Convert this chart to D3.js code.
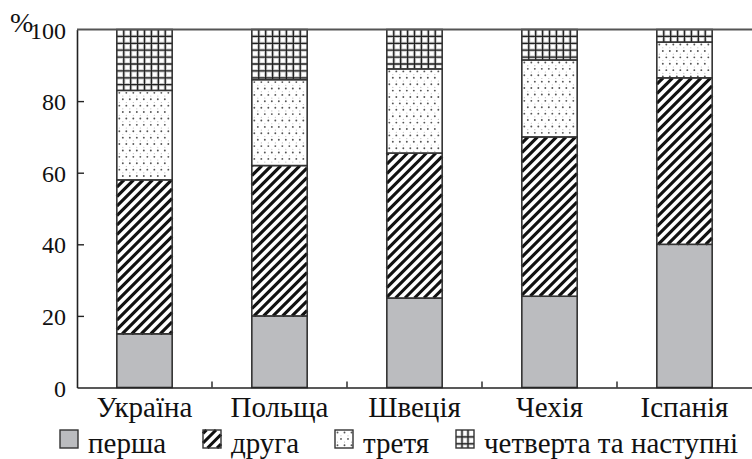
<!DOCTYPE html>
<html>
<head>
<meta charset="utf-8">
<script src="https://cdn.jsdelivr.net/npm/d3@7"></script>
</head>
<body style="margin:0">
<script>
    /*Data*/
    const countries = ["Україна", "Польща", "Швеція", "Чехія", "Іспанія"];
    const seriesNames = ["перша", "друга", "третя", "четверта та наступні"];
    const persha   = [15, 20, 25, 25.5, 40];
    const druha    = [43, 42, 40.5, 44.5, 46.5];
    const tretia   = [25, 24, 23.5, 21.5, 10];
    const chetverta = [17, 14, 11, 8.5, 3.5];
    const yTicks = [0, 20, 40, 60, 80, 100];

    const FONT = "serif";
    const W = 752, H = 459;
    let margin = {top: 29.5, left: 77, right: 0, bottom: 71.5};
    const width = W - margin.left - margin.right,
    height = H - margin.top - margin.bottom;

    const svg = d3.select("body").append("svg")
    .attr("width", W)
    .attr("height", H)
    .attr("font-family", FONT);

    /*Textures drawn straight into a box*/
    function texture(g, kind, x0, y0, x1, y1) {
        if (kind === 0) {
            g.append("rect").attr("x", x0).attr("y", y0).attr("width", x1 - x0).attr("height", y1 - y0)
            .attr("fill", "#bbbcbf");
            return;
        }
        g.append("rect").attr("x", x0).attr("y", y0).attr("width", x1 - x0).attr("height", y1 - y0)
        .attr("fill", "#fff");
        if (kind === 1) {
            const step = 9.5;
            const segs = [];
            for (let c = Math.ceil((x0 + y0) / step) * step; c < x1 + y1; c += step) {
                const ax = Math.max(x0, c - y1), bx = Math.min(x1, c - y0);
                if (bx > ax) segs.push([ax, c - ax, bx, c - bx]);
            }
            g.selectAll(null).data(segs).enter().append("line")
            .attr("x1", d => d[0]).attr("y1", d => d[1])
            .attr("x2", d => d[2]).attr("y2", d => d[3])
            .attr("stroke", "#111").attr("stroke-width", 3.1);
        } else if (kind === 2) {
            const pts = [];
            let r = 0;
            for (let y = y0 + 2.5; y < y1 - 1; y += 6.4, r++) {
                for (let x = x0 + 2.5 + (r % 2) * 3.5; x < x1 - 1; x += 7) pts.push([x, y, 1]);
                for (let x = x0 + 6 - (r % 2) * 3.5; x < x1 - 1; x += 7) if (y + 3.2 < y1 - 1) pts.push([x, y + 3.2, 0]);
            }
            g.selectAll(null).data(pts).enter().append("circle")
            .attr("cx", d => d[0]).attr("cy", d => d[1])
            .attr("r", d => d[2] ? 0.95 : 0.55)
            .attr("fill", d => d[2] ? "#555" : "#b5b5b5");
        } else {
            const vs = [], hs = [];
            const nx = Math.max(2, Math.round((x1 - x0) / 6.9));
            for (let k = 1; k < nx; k++) vs.push(x0 + k * (x1 - x0) / nx);
            for (let y = y0 + 6.9; y < y1 - 1.5; y += 6.9) hs.push(y);
            [["#c8c8c8", 3.2], ["#222", 1.3]].forEach(([col, sw]) => {
                g.selectAll(null).data(vs).enter().append("line")
                .attr("x1", d => d).attr("x2", d => d).attr("y1", y0).attr("y2", y1)
                .attr("stroke", col).attr("stroke-width", sw);
                g.selectAll(null).data(hs).enter().append("line")
                .attr("x1", x0).attr("x2", x1).attr("y1", d => d).attr("y2", d => d)
                .attr("stroke", col).attr("stroke-width", sw);
            });
        }
    }

    /*Scales*/
    const xBand = d3.scaleBand().domain(countries).range([margin.left, W]).padding(0);
    const yScale = d3.scaleLinear().domain([0, 100]).range([margin.top + height, margin.top]);
    const barW = xBand.bandwidth() * 0.41;

    /*Stack*/
    const table = countries.map((c, i) => ({
        country: c,
        "перша": persha[i],
        "друга": druha[i],
        "третя": tretia[i],
        "четверта та наступні": chetverta[i]
    }));
    const stacked = d3.stack().keys(seriesNames)(table);

    /*Bars*/
    stacked.forEach((layer, li) => {
        const g = svg.append("g").attr("class", "layer");
        layer.forEach(d => {
            const x0 = xBand(d.data.country) + (xBand.bandwidth() - barW) / 2;
            const cell = g.append("g");
            texture(cell, li, x0, yScale(d[1]), x0 + barW, yScale(d[0]));
            cell.append("rect")
            .attr("x", x0).attr("y", yScale(d[1]))
            .attr("width", barW).attr("height", yScale(d[0]) - yScale(d[1]))
            .attr("fill", "none")
            .attr("stroke", "#333").attr("stroke-width", 1.6);
        });
    });

    /*Axes*/
    const yAxis = d3.axisLeft(yScale)
    .tickValues(yTicks)
    .tickSizeInner(-7)
    .tickSizeOuter(0)
    .tickPadding(11);

    const gy = svg.append("g")
    .attr("transform", `translate(${margin.left},0)`)
    .call(yAxis)
    .attr("font-family", FONT)
    .attr("font-size", 24);
    gy.select(".domain").attr("stroke", "#222").attr("stroke-width", 1.6);
    gy.selectAll(".tick line").attr("stroke", "#222").attr("stroke-width", 1.4)
    .filter(d => d === 0 || d === 100).remove();
    gy.selectAll(".tick text")
    .attr("font-family", FONT).attr("font-size", 24).attr("fill", "#111")
    .attr("dy", "0.36em");

    const xAxis = d3.axisBottom(xBand).tickSize(0).tickPadding(0);
    const gx = svg.append("g")
    .attr("transform", `translate(0,${yScale(0)})`)
    .call(xAxis)
    .attr("font-family", FONT)
    .attr("font-size", 29);
    gx.select(".domain").attr("stroke", "#222").attr("stroke-width", 1.6);
    gx.selectAll(".tick text")
    .attr("font-family", FONT).attr("font-size", 29).attr("fill", "#111")
    .attr("y", 29.5).attr("dy", 0);

    // ticks between categories
    svg.append("g").selectAll("line")
    .data(countries.slice(1))
    .enter()
    .append("line")
    .attr("x1", d => xBand(d)).attr("x2", d => xBand(d))
    .attr("y1", yScale(0)).attr("y2", yScale(0) - 6)
    .attr("stroke", "#222").attr("stroke-width", 1.4);

    // top frame line
    svg.append("line")
    .attr("x1", margin.left).attr("x2", W)
    .attr("y1", yScale(100)).attr("y2", yScale(100))
    .attr("stroke", "#555").attr("stroke-width", 1.8);

    svg.append("text")
    .attr("x", 10).attr("y", 32)
    .attr("font-family", FONT).attr("font-size", 28).attr("fill", "#111")
    .text("%");

    /*Legend*/
    const legendX = [60, 203, 335, 456];
    seriesNames.forEach((name, i) => {
        const item = svg.append("g");
        texture(item, i, legendX[i], 430, legendX[i] + 18, 448);
        item.append("rect")
        .attr("x", legendX[i]).attr("y", 430)
        .attr("width", 18).attr("height", 18)
        .attr("fill", "none")
        .attr("stroke", "#333").attr("stroke-width", 1.4);
        const t = item.append("text")
        .attr("x", legendX[i] + 28).attr("y", 453)
        .attr("font-family", FONT).attr("font-size", 29).attr("fill", "#111")
        .text(name);
        if (i === 3) t.attr("textLength", 254).attr("lengthAdjust", "spacingAndGlyphs");
    });
</script>
</body>
</html>
